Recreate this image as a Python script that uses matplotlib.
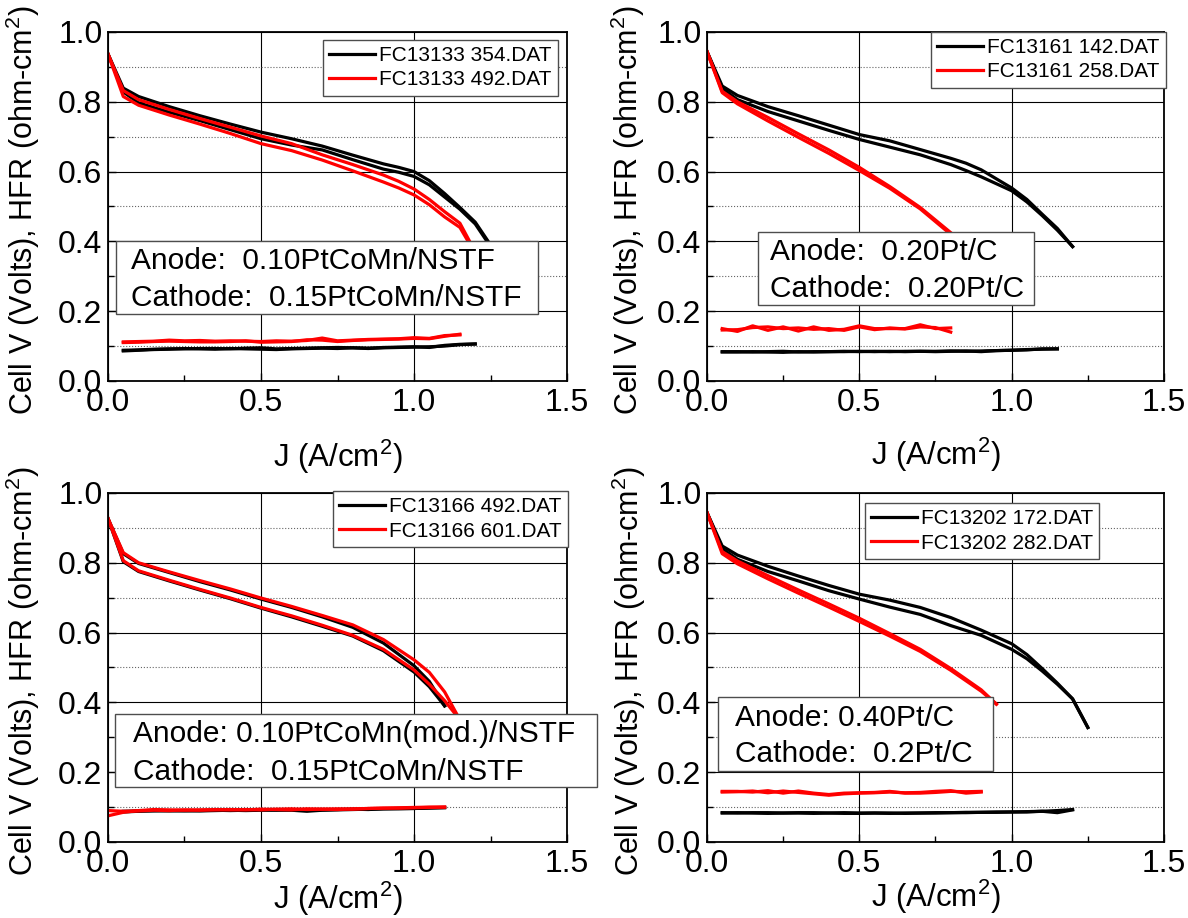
import matplotlib
matplotlib.use('Agg')
import matplotlib.pyplot as plt
from matplotlib.patches import Rectangle
from matplotlib.ticker import MultipleLocator, FormatStrFormatter

plt.rcParams['font.family'] = ['Liberation Sans', 'DejaVu Sans']
plt.rcParams['mathtext.fontset'] = 'custom'
plt.rcParams['mathtext.rm'] = 'Liberation Sans'
plt.rcParams['mathtext.it'] = 'Liberation Sans:italic'

# --- FC13133: PtCoMn/NSTF anode and cathode ---
tl_j_black = [0, 0.05, 0.1, 0.2, 0.3, 0.4, 0.5, 0.6, 0.7, 0.8, 0.9, 0.95, 1.0, 1.05, 1.1, 1.15, 1.2, 1.25]
tl_v_black_up = [0.937, 0.839, 0.815, 0.786, 0.760, 0.736, 0.713, 0.694, 0.673, 0.647, 0.622, 0.612, 0.600, 0.574, 0.537, 0.497, 0.455, 0.390]
tl_v_black_dn = [0.937, 0.828, 0.797, 0.770, 0.746, 0.720, 0.694, 0.676, 0.662, 0.634, 0.607, 0.598, 0.586, 0.562, 0.527, 0.492, 0.450, 0.385]
tl_j_red = [0, 0.05, 0.1, 0.2, 0.3, 0.4, 0.5, 0.6, 0.7, 0.8, 0.9, 0.95, 1.0, 1.05, 1.1, 1.15, 1.2]
tl_v_red_up = [0.937, 0.832, 0.806, 0.778, 0.752, 0.727, 0.702, 0.680, 0.648, 0.620, 0.590, 0.572, 0.550, 0.520, 0.485, 0.452, 0.370]
tl_v_red_dn = [0.937, 0.815, 0.790, 0.762, 0.736, 0.709, 0.680, 0.660, 0.633, 0.602, 0.570, 0.553, 0.533, 0.505, 0.470, 0.440, 0.365]
tl_hfr_j_black = [0.05, 0.1, 0.15, 0.2, 0.25, 0.3, 0.35, 0.4, 0.45, 0.5, 0.55, 0.6, 0.65, 0.7, 0.75, 0.8, 0.85, 0.9, 0.95, 1.0, 1.05, 1.1, 1.15, 1.2]
tl_hfr_black_a = [0.088, 0.089, 0.091, 0.092, 0.092, 0.093, 0.093, 0.092, 0.094, 0.095, 0.092, 0.093, 0.094, 0.095, 0.096, 0.095, 0.094, 0.096, 0.097, 0.098, 0.096, 0.102, 0.105, 0.106]
tl_hfr_black_b = [0.086, 0.088, 0.090, 0.091, 0.093, 0.092, 0.091, 0.093, 0.092, 0.091, 0.090, 0.092, 0.093, 0.094, 0.093, 0.095, 0.093, 0.095, 0.096, 0.097, 0.098, 0.100, 0.104, 0.106]
tl_hfr_j_red = [0.05, 0.1, 0.15, 0.2, 0.25, 0.3, 0.35, 0.4, 0.45, 0.5, 0.55, 0.6, 0.65, 0.7, 0.75, 0.8, 0.85, 0.9, 0.95, 1.0, 1.05, 1.1, 1.15]
tl_hfr_red_a = [0.112, 0.113, 0.114, 0.117, 0.115, 0.116, 0.114, 0.115, 0.114, 0.113, 0.115, 0.114, 0.116, 0.123, 0.115, 0.117, 0.119, 0.120, 0.121, 0.124, 0.122, 0.130, 0.132]
tl_hfr_red_b = [0.110, 0.111, 0.113, 0.114, 0.113, 0.112, 0.112, 0.113, 0.115, 0.111, 0.112, 0.113, 0.118, 0.117, 0.113, 0.116, 0.118, 0.119, 0.120, 0.122, 0.121, 0.128, 0.134]
tl_labels = ['FC13133 354.DAT', 'FC13133 492.DAT']
tl_note = ['Anode:  0.10PtCoMn/NSTF', 'Cathode:  0.15PtCoMn/NSTF']

# --- FC13161: Pt/C anode and cathode ---
tr_j_black = [0, 0.05, 0.1, 0.2, 0.3, 0.4, 0.5, 0.6, 0.7, 0.8, 0.85, 0.9, 1.0, 1.05, 1.1, 1.15, 1.2]
tr_v_black_up = [0.944, 0.845, 0.818, 0.786, 0.760, 0.733, 0.706, 0.688, 0.663, 0.638, 0.624, 0.605, 0.553, 0.520, 0.478, 0.437, 0.385]
tr_v_black_dn = [0.944, 0.838, 0.806, 0.772, 0.745, 0.718, 0.692, 0.670, 0.648, 0.620, 0.603, 0.585, 0.545, 0.513, 0.474, 0.432, 0.385]
tr_j_red = [0, 0.05, 0.1, 0.2, 0.3, 0.4, 0.5, 0.6, 0.7, 0.8, 0.85]
tr_v_red_up = [0.944, 0.830, 0.800, 0.755, 0.708, 0.662, 0.612, 0.557, 0.497, 0.425, 0.385]
tr_v_red_dn = [0.944, 0.826, 0.794, 0.745, 0.698, 0.652, 0.603, 0.552, 0.493, 0.420, 0.385]
tr_hfr_j_black = [0.05, 0.1, 0.15, 0.2, 0.25, 0.3, 0.35, 0.4, 0.45, 0.5, 0.55, 0.6, 0.65, 0.7, 0.75, 0.8, 0.85, 0.9, 0.95, 1.0, 1.05, 1.1, 1.15]
tr_hfr_black_a = [0.084, 0.084, 0.083, 0.084, 0.085, 0.083, 0.084, 0.084, 0.085, 0.084, 0.085, 0.084, 0.085, 0.085, 0.085, 0.086, 0.085, 0.086, 0.087, 0.088, 0.089, 0.092, 0.092]
tr_hfr_black_b = [0.083, 0.083, 0.084, 0.083, 0.082, 0.084, 0.083, 0.084, 0.084, 0.085, 0.084, 0.085, 0.084, 0.085, 0.084, 0.085, 0.086, 0.084, 0.087, 0.088, 0.090, 0.091, 0.092]
tr_hfr_j_red = [0.05, 0.1, 0.15, 0.2, 0.25, 0.3, 0.35, 0.4, 0.45, 0.5, 0.55, 0.6, 0.65, 0.7, 0.75, 0.8]
tr_hfr_red_a = [0.150, 0.142, 0.158, 0.145, 0.155, 0.143, 0.155, 0.145, 0.148, 0.158, 0.150, 0.150, 0.150, 0.161, 0.150, 0.152]
tr_hfr_red_b = [0.146, 0.147, 0.153, 0.155, 0.150, 0.152, 0.148, 0.150, 0.145, 0.155, 0.147, 0.152, 0.149, 0.155, 0.153, 0.140]
tr_labels = ['FC13161 142.DAT', 'FC13161 258.DAT']
tr_note = ['Anode:  0.20Pt/C', 'Cathode:  0.20Pt/C']

# --- FC13166: modified PtCoMn/NSTF anode ---
bl_j_black = [0, 0.05, 0.1, 0.2, 0.3, 0.4, 0.5, 0.6, 0.7, 0.8, 0.9, 1.0, 1.05, 1.1]
bl_v_black_up = [0.927, 0.826, 0.798, 0.772, 0.746, 0.722, 0.696, 0.672, 0.645, 0.615, 0.570, 0.505, 0.460, 0.390]
bl_v_black_dn = [0.927, 0.803, 0.775, 0.748, 0.722, 0.697, 0.670, 0.645, 0.618, 0.590, 0.548, 0.487, 0.445, 0.390]
bl_j_red = [0, 0.05, 0.1, 0.2, 0.3, 0.4, 0.5, 0.6, 0.7, 0.8, 0.9, 1.0, 1.05, 1.1, 1.15]
bl_v_red_up = [0.927, 0.829, 0.800, 0.774, 0.749, 0.725, 0.699, 0.675, 0.649, 0.622, 0.580, 0.522, 0.486, 0.430, 0.350]
bl_v_red_dn = [0.927, 0.806, 0.777, 0.750, 0.724, 0.699, 0.672, 0.648, 0.621, 0.592, 0.552, 0.493, 0.452, 0.405, 0.350]
bl_hfr_j_black = [0.05, 0.1, 0.15, 0.2, 0.25, 0.3, 0.35, 0.4, 0.45, 0.5, 0.55, 0.6, 0.65, 0.7, 0.75, 0.8, 0.85, 0.9, 0.95, 1.0, 1.05, 1.1]
bl_hfr_black_a = [0.086, 0.088, 0.090, 0.089, 0.090, 0.089, 0.090, 0.091, 0.090, 0.091, 0.092, 0.091, 0.088, 0.091, 0.092, 0.093, 0.094, 0.095, 0.095, 0.096, 0.097, 0.098]
bl_hfr_black_b = [0.088, 0.089, 0.089, 0.090, 0.089, 0.090, 0.091, 0.090, 0.091, 0.092, 0.091, 0.092, 0.091, 0.092, 0.093, 0.094, 0.093, 0.095, 0.096, 0.096, 0.098, 0.099]
bl_hfr_j_red = [0, 0.05, 0.1, 0.15, 0.2, 0.25, 0.3, 0.35, 0.4, 0.45, 0.5, 0.55, 0.6, 0.65, 0.7, 0.75, 0.8, 0.85, 0.9, 0.95, 1.0, 1.05, 1.1]
bl_hfr_red_a = [0.075, 0.085, 0.090, 0.093, 0.092, 0.091, 0.092, 0.092, 0.093, 0.092, 0.094, 0.093, 0.092, 0.095, 0.094, 0.093, 0.095, 0.096, 0.097, 0.098, 0.099, 0.100, 0.100]
bl_hfr_red_b = [0.090, 0.088, 0.089, 0.091, 0.090, 0.092, 0.091, 0.093, 0.092, 0.093, 0.092, 0.094, 0.095, 0.093, 0.094, 0.095, 0.094, 0.096, 0.097, 0.097, 0.098, 0.099, 0.100]
bl_labels = ['FC13166 492.DAT', 'FC13166 601.DAT']
bl_note = ['Anode: 0.10PtCoMn(mod.)/NSTF', 'Cathode:  0.15PtCoMn/NSTF']

# --- FC13202: 0.40Pt/C anode ---
br_j_black = [0, 0.05, 0.1, 0.2, 0.3, 0.4, 0.5, 0.6, 0.7, 0.8, 0.9, 1.0, 1.05, 1.1, 1.15, 1.2, 1.25]
br_v_black_up = [0.944, 0.848, 0.822, 0.790, 0.762, 0.735, 0.710, 0.693, 0.672, 0.643, 0.607, 0.568, 0.537, 0.497, 0.455, 0.410, 0.328]
br_v_black_dn = [0.944, 0.840, 0.810, 0.775, 0.748, 0.720, 0.696, 0.673, 0.652, 0.620, 0.592, 0.552, 0.525, 0.490, 0.452, 0.410, 0.328]
br_j_red = [0, 0.05, 0.1, 0.2, 0.3, 0.4, 0.5, 0.6, 0.7, 0.8, 0.9, 0.95]
br_v_red_up = [0.944, 0.832, 0.805, 0.763, 0.722, 0.682, 0.641, 0.597, 0.552, 0.497, 0.436, 0.395]
br_v_red_dn = [0.944, 0.826, 0.797, 0.754, 0.713, 0.673, 0.632, 0.590, 0.546, 0.492, 0.432, 0.395]
br_hfr_j_black = [0.05, 0.1, 0.15, 0.2, 0.25, 0.3, 0.35, 0.4, 0.45, 0.5, 0.55, 0.6, 0.65, 0.7, 0.75, 0.8, 0.85, 0.9, 0.95, 1.0, 1.05, 1.1, 1.15, 1.2]
br_hfr_black_a = [0.084, 0.083, 0.084, 0.084, 0.083, 0.084, 0.084, 0.083, 0.084, 0.083, 0.083, 0.082, 0.083, 0.083, 0.084, 0.084, 0.085, 0.085, 0.086, 0.086, 0.087, 0.088, 0.090, 0.093]
br_hfr_black_b = [0.083, 0.084, 0.083, 0.082, 0.083, 0.083, 0.082, 0.083, 0.082, 0.082, 0.083, 0.083, 0.082, 0.083, 0.083, 0.084, 0.084, 0.085, 0.085, 0.086, 0.086, 0.088, 0.084, 0.092]
br_hfr_j_red = [0.05, 0.1, 0.15, 0.2, 0.25, 0.3, 0.35, 0.4, 0.45, 0.5, 0.55, 0.6, 0.65, 0.7, 0.75, 0.8, 0.85, 0.9]
br_hfr_red_a = [0.145, 0.145, 0.143, 0.147, 0.140, 0.146, 0.140, 0.136, 0.140, 0.141, 0.142, 0.145, 0.140, 0.140, 0.142, 0.145, 0.144, 0.145]
br_hfr_red_b = [0.143, 0.144, 0.146, 0.141, 0.146, 0.142, 0.138, 0.134, 0.138, 0.140, 0.141, 0.143, 0.141, 0.142, 0.145, 0.147, 0.140, 0.143]
br_labels = ['FC13202 172.DAT', 'FC13202 282.DAT']
br_note = ['Anode: 0.40Pt/C', 'Cathode:  0.2Pt/C']

LW = 2.3
RED = '#ff0000'


def draw_panel(rect, pol_black, pol_red, hfr_black, hfr_red, labels, note,
               legend_at, note_box, note_text, xlabel_y, ylabel_x):
    ax = fig.add_axes(rect)
    ax.set_axisbelow(True)

    # polarization curves, both sweep directions
    j, up, dn = pol_black
    ax.plot(j, up, color='k', lw=LW, label=labels[0])
    ax.plot(j, dn, color='k', lw=LW)
    j, up, dn = pol_red
    ax.plot(j, up, color=RED, lw=LW, label=labels[1])
    ax.plot(j, dn, color=RED, lw=LW)

    # HFR traces
    j, a, b = hfr_black
    ax.plot(j, a, color='k', lw=LW)
    ax.plot(j, b, color='k', lw=LW)
    j, a, b = hfr_red
    ax.plot(j, a, color=RED, lw=LW)
    ax.plot(j, b, color=RED, lw=LW)

    ax.set_xlim(0, 1.5)
    ax.set_ylim(0, 1.0)
    ax.xaxis.set_major_locator(MultipleLocator(0.5))
    ax.xaxis.set_minor_locator(MultipleLocator(0.25))
    ax.yaxis.set_major_locator(MultipleLocator(0.2))
    ax.yaxis.set_minor_locator(MultipleLocator(0.1))
    ax.xaxis.set_major_formatter(FormatStrFormatter('%.1f'))
    ax.yaxis.set_major_formatter(FormatStrFormatter('%.1f'))
    ax.tick_params(which='both', direction='in', labelsize=23, width=1.0)
    ax.tick_params(which='major', length=6)
    ax.tick_params(which='minor', length=4)
    ax.tick_params(axis='x', pad=5)
    ax.tick_params(axis='y', pad=4)

    ax.grid(which='major', color='k', lw=0.8)
    ax.yaxis.grid(which='minor', color='0.4', lw=0.8, ls=':')
    for sp in ax.spines.values():
        sp.set_linewidth(1.3)

    ax.set_xlabel(r'J (A/cm$^2$)', fontsize=22.5)
    ax.set_ylabel(r'Cell V (Volts), HFR (ohm-cm$^2$)', fontsize=22)
    ax.xaxis.set_label_coords(0.5, xlabel_y)
    ax.yaxis.set_label_coords(ylabel_x, 0.49)

    leg = ax.legend(loc='upper left', bbox_to_anchor=legend_at, borderaxespad=0,
                    fontsize=15, fancybox=False, framealpha=1, edgecolor='0.3',
                    handlelength=2.2, handletextpad=0.2, labelspacing=0.25,
                    borderpad=0.3)
    leg.get_frame().set_linewidth(1.0)

    x0, y0, x1, y1 = note_box
    ax.add_patch(Rectangle((x0, y0), x1 - x0, y1 - y0, transform=ax.transAxes,
                           facecolor='white', edgecolor='0.3', lw=1.0,
                           clip_on=False, zorder=5))
    tx, ty1, ty2 = note_text
    ax.text(tx, ty1, note[0], transform=ax.transAxes, fontsize=21.5,
            va='baseline', ha='left', zorder=6)
    ax.text(tx, ty2, note[1], transform=ax.transAxes, fontsize=21.5,
            va='baseline', ha='left', zorder=6)
    return ax


fig = plt.figure(figsize=(11.88, 9.18), dpi=100)

draw_panel([0.0909, 0.5850, 0.3864, 0.3802],
           (tl_j_black, tl_v_black_up, tl_v_black_dn),
           (tl_j_red, tl_v_red_up, tl_v_red_dn),
           (tl_hfr_j_black, tl_hfr_black_a, tl_hfr_black_b),
           (tl_hfr_j_red, tl_hfr_red_a, tl_hfr_red_b),
           tl_labels, tl_note,
           (0.468, 0.977), (0.017, 0.192, 0.937, 0.401), (0.050, 0.321, 0.215),
           -0.162, -0.144)

draw_panel([0.5951, 0.5850, 0.3847, 0.3802],
           (tr_j_black, tr_v_black_up, tr_v_black_dn),
           (tr_j_red, tr_v_red_up, tr_v_red_dn),
           (tr_hfr_j_black, tr_hfr_black_a, tr_hfr_black_b),
           (tr_hfr_j_red, tr_hfr_red_a, tr_hfr_red_b),
           tr_labels, tr_note,
           (0.49, 1.0), (0.111, 0.218, 0.716, 0.427), (0.137, 0.347, 0.241),
           -0.158, -0.132)

draw_panel([0.0909, 0.0828, 0.3864, 0.3802],
           (bl_j_black, bl_v_black_up, bl_v_black_dn),
           (bl_j_red, bl_v_red_up, bl_v_red_dn),
           (bl_hfr_j_black, bl_hfr_black_a, bl_hfr_black_b),
           (bl_hfr_j_red, bl_hfr_red_a, bl_hfr_red_b),
           bl_labels, bl_note,
           (0.490, 1.005), (0.015, 0.158, 1.065, 0.367), (0.055, 0.287, 0.178),
           -0.109, -0.144)

draw_panel([0.5951, 0.0828, 0.3847, 0.3802],
           (br_j_black, br_v_black_up, br_v_black_dn),
           (br_j_red, br_v_red_up, br_v_red_dn),
           (br_hfr_j_black, br_hfr_black_a, br_hfr_black_b),
           (br_hfr_j_red, br_hfr_red_a, br_hfr_red_b),
           br_labels, br_note,
           (0.345, 0.971), (0.024, 0.203, 0.625, 0.415), (0.062, 0.332, 0.229),
           -0.103, -0.128)

fig.savefig('out.png', dpi=100)
